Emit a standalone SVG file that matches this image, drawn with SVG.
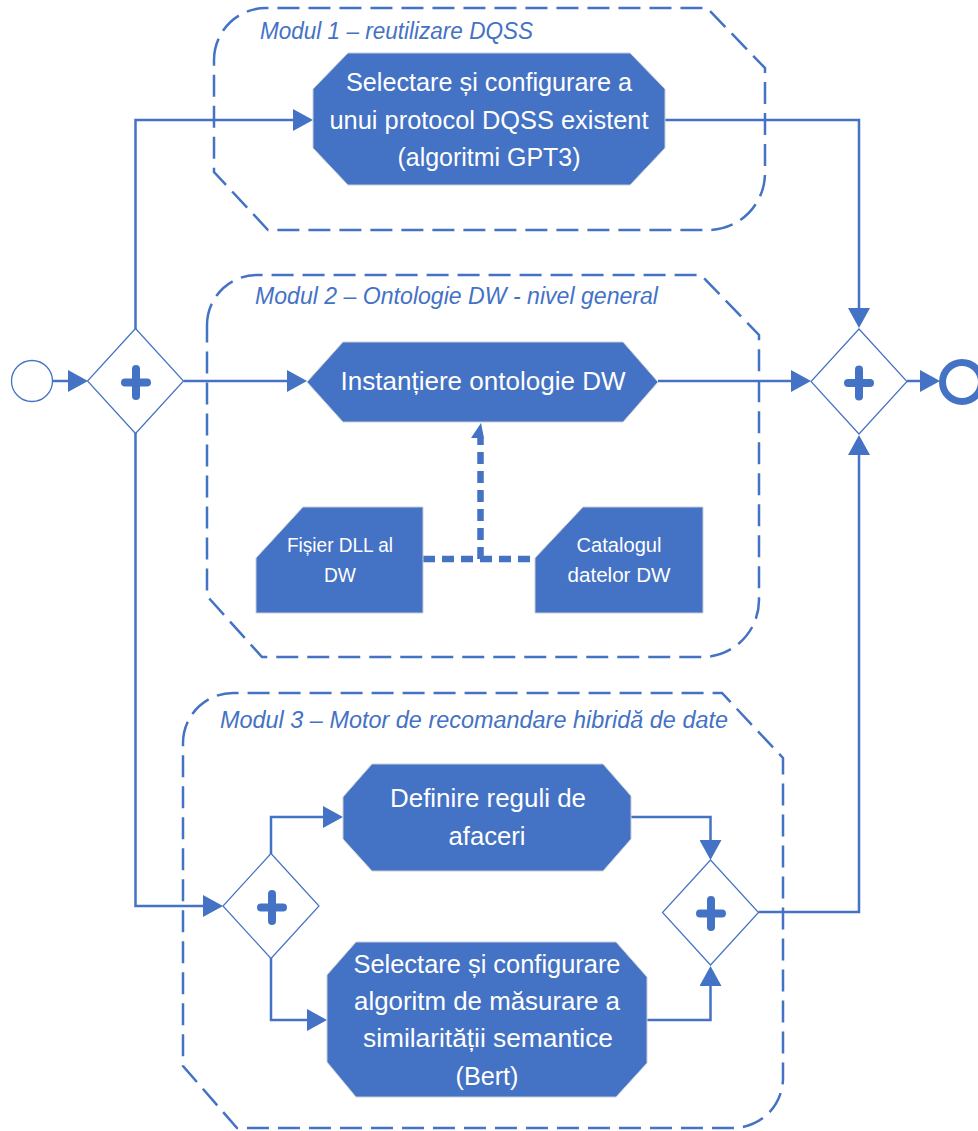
<svg xmlns="http://www.w3.org/2000/svg" xmlns:xlink="http://www.w3.org/1999/xlink" width="978" height="1131" viewBox="0 0 978 1131">
  <style>
    .module { fill: none; stroke: #4472C4; stroke-width: 2.5; stroke-dasharray: 22 9; }
    .title { font-family: "Liberation Sans", Arial, sans-serif; font-style: italic; font-size: 23px; fill: #4472C4; }
    .task { fill: #4472C4; stroke: #c9cdd6; stroke-width: 1; }
    .label { font-family: "Liberation Sans", Arial, sans-serif; font-size: 26.5px; fill: #ffffff; text-anchor: middle; }
    .small { font-family: "Liberation Sans", Arial, sans-serif; font-size: 20.5px; fill: #ffffff; text-anchor: middle; }
    .gateway { fill: #ffffff; stroke: #4472C4; stroke-width: 1.2; }
    .plus { fill: none; stroke: #4472C4; stroke-width: 8; stroke-linecap: round; }
    .flow { fill: none; stroke: #4472C4; stroke-width: 2.5; }
    .assoc { fill: none; stroke: #4472C4; stroke-width: 6.5; stroke-dasharray: 12 7; }
  </style>
  <defs>
    <marker id="arrow" markerUnits="userSpaceOnUse" markerWidth="20" markerHeight="22" refX="10" refY="11" orient="auto">
      <path d="M0,0 L20,11 L0,22 Z" fill="#4472C4"/>
    </marker>
    <polygon id="gw" points="0,-52.5 48,0 0,52.5 -48,0"/>
    <path id="plusSign" d="M-11,1.5 H11 M0,-12 V15"/>
  </defs>

  <!-- module containers -->
  <g id="module1">
    <path class="module" d="M214,60 A52,52 0 0 1 266,8 L707,8 L765,68 L765,173 A57,57 0 0 1 708,230 L268,230 L214,172 Z"/>
    <text class="title" x="260" y="39" textLength="273" lengthAdjust="spacingAndGlyphs">Modul 1 – reutilizare DQSS</text>
  </g>
  <g id="module2">
    <path class="module" d="M207,325 A50,50 0 0 1 257,275 L701,275 L759,335 L759,600 A57,57 0 0 1 702,657 L262,657 L207,596 Z"/>
    <text class="title" x="255" y="304" textLength="403" lengthAdjust="spacingAndGlyphs">Modul 2 – Ontologie DW - nivel general</text>
  </g>
  <g id="module3">
    <path class="module" d="M183,743 A50,50 0 0 1 233,693 L722,693 L783,758 L783,1078 A50,50 0 0 1 733,1128 L237,1128 L183,1066 Z"/>
    <text class="title" x="220" y="728" textLength="508" lengthAdjust="spacingAndGlyphs">Modul 3 – Motor de recomandare hibridă de date</text>
  </g>

  <!-- connectors -->
  <g id="connectors">
    <path class="flow" d="M52,381 H78" marker-end="url(#arrow)"/>
    <path class="flow" d="M135.5,329 V120 H303" marker-end="url(#arrow)"/>
    <path class="flow" d="M183.5,381 H297" marker-end="url(#arrow)"/>
    <path class="flow" d="M135.5,433 V906 H213" marker-end="url(#arrow)"/>
    <path class="flow" d="M665,120 H859 V318" marker-end="url(#arrow)"/>
    <path class="flow" d="M658,381 H801" marker-end="url(#arrow)"/>
    <path class="flow" d="M907,381 H930" marker-end="url(#arrow)"/>
    <path class="flow" d="M271,854 V817 H333" marker-end="url(#arrow)"/>
    <path class="flow" d="M271,958 V1020 H317" marker-end="url(#arrow)"/>
    <path class="flow" d="M631,817 H710.5 V850" marker-end="url(#arrow)"/>
    <path class="flow" d="M647,1020 H710.5 V976" marker-end="url(#arrow)"/>
    <path class="flow" d="M758.5,912 H859 V445" marker-end="url(#arrow)"/>
    <!-- data associations -->
    <path class="assoc" d="M423,559 H535"/>
    <path class="assoc" d="M480.5,559 V437"/>
    <polygon points="471,438 481,423 484,438" fill="#4472C4"/>
  </g>

  <!-- events -->
  <g id="start">
    <circle cx="32" cy="381" r="20.5" fill="#ffffff" stroke="#4472C4" stroke-width="1.3"/>
  </g>
  <g id="end">
    <circle cx="962" cy="382" r="19.5" fill="#ffffff" stroke="#4472C4" stroke-width="7"/>
  </g>

  <!-- gateways -->
  <g id="gateway-split">
    <use xlink:href="#gw" class="gateway" x="135.5" y="381"/>
    <use xlink:href="#plusSign" class="plus" x="136" y="381"/>
  </g>
  <g id="gateway-join">
    <use xlink:href="#gw" class="gateway" x="859" y="381.5"/>
    <use xlink:href="#plusSign" class="plus" x="859" y="381.5"/>
  </g>
  <g id="gateway-m3-split">
    <use xlink:href="#gw" class="gateway" x="271" y="906"/>
    <use xlink:href="#plusSign" class="plus" x="272" y="906"/>
  </g>
  <g id="gateway-m3-join">
    <use xlink:href="#gw" class="gateway" x="710.5" y="912.5"/>
    <use xlink:href="#plusSign" class="plus" x="711" y="912"/>
  </g>

  <!-- tasks -->
  <g id="task-dqss">
    <polygon class="task" points="348,53 630,53 665,89 665,148 630,185 348,185 313,148 313,89"/>
    <text class="label" x="489" y="91" textLength="286" lengthAdjust="spacingAndGlyphs">Selectare și configurare a</text>
    <text class="label" x="489" y="129" textLength="319" lengthAdjust="spacingAndGlyphs">unui protocol DQSS existent</text>
    <text class="label" x="489" y="166" textLength="183" lengthAdjust="spacingAndGlyphs">(algoritmi GPT3)</text>
  </g>
  <g id="task-ontologie">
    <polygon class="task" points="307,382 343,342 623,342 658,382 623,422 343,422"/>
    <text class="label" x="483" y="390" textLength="285" lengthAdjust="spacingAndGlyphs">Instanțiere ontologie DW</text>
  </g>
  <g id="data-dll">
    <polygon class="task" points="303,507 423,507 423,613 256,613 256,558"/>
    <text class="small" x="340" y="552" textLength="106" lengthAdjust="spacingAndGlyphs">Fișier DLL al</text>
    <text class="small" x="340" y="582" textLength="32" lengthAdjust="spacingAndGlyphs">DW</text>
  </g>
  <g id="data-catalog">
    <polygon class="task" points="583,507 703,507 703,613 535,613 535,558"/>
    <text class="small" x="619" y="552" textLength="85" lengthAdjust="spacingAndGlyphs">Catalogul</text>
    <text class="small" x="619" y="582" textLength="103" lengthAdjust="spacingAndGlyphs">datelor DW</text>
  </g>
  <g id="task-reguli">
    <polygon class="task" points="372,764 603,764 631,796 631,839 603,871 372,871 343,839 343,797"/>
    <text class="label" x="488" y="807" textLength="196" lengthAdjust="spacingAndGlyphs">Definire reguli de</text>
    <text class="label" x="487" y="845" textLength="77" lengthAdjust="spacingAndGlyphs">afaceri</text>
  </g>
  <g id="task-bert">
    <polygon class="task" points="356,942 616,942 647,977 647,1063 616,1097 356,1097 327,1062 327,975"/>
    <text class="label" x="487" y="973" textLength="267" lengthAdjust="spacingAndGlyphs">Selectare și configurare</text>
    <text class="label" x="487" y="1010" textLength="266" lengthAdjust="spacingAndGlyphs">algoritm de măsurare a</text>
    <text class="label" x="488" y="1047" textLength="250" lengthAdjust="spacingAndGlyphs">similarității semantice</text>
    <text class="label" x="487" y="1085" textLength="63" lengthAdjust="spacingAndGlyphs">(Bert)</text>
  </g>
</svg>
